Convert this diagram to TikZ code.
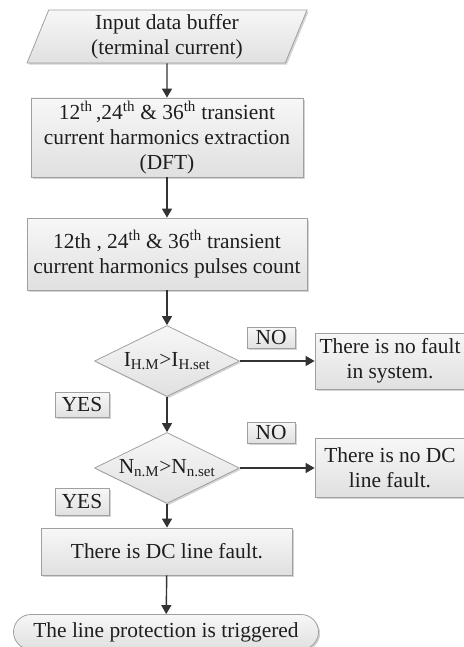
\documentclass[tikz,border=0pt]{standalone}
\usepackage{fontspec}
\setmainfont{Liberation Serif}
\usetikzlibrary{shapes.geometric,shapes.misc,shadows,arrows.meta}

\begin{document}
\begin{tikzpicture}[x=1bp, y=-1bp,
    font=\fontsize{21.5}{25}\selectfont,
    base/.style={draw=borderColour, line width=0.8pt, text=textColour,
        top color=topColour, bottom color=bottomColour, align=center,
        inner sep=0pt,
        drop shadow={shadow xshift=1.6bp, shadow yshift=-1.6bp, opacity=0.35, fill=gray}},
    block/.style={base, rectangle},
    io/.style={base, trapezium, trapezium left angle=64, trapezium right angle=116,
        trapezium stretches body},
    test/.style={base, diamond, aspect=2},
    stop/.style={base, rounded rectangle},
    tag/.style={base, rectangle, minimum width=48bp, minimum height=21bp},
    flow/.style={draw=arrowColour, line width=1.4pt, -{Triangle[length=9bp,width=10bp]}}]

    % Define colours
    \definecolor{borderColour}{HTML}{A0A0A0}
    \definecolor{topColour}{HTML}{F7F7F7}
    \definecolor{bottomColour}{HTML}{E0E0E0}
    \definecolor{textColour}{HTML}{1E1E1E}
    \definecolor{arrowColour}{HTML}{333333}

    % Fix page size
    \useasboundingbox (0,0) rectangle (464,647);

    % Main chain
    \node[io, minimum width=280bp, minimum height=53bp] (buffer) at (167,36.5)
        {Input data buffer\\(terminal current)};
    \node[block, minimum width=272bp, minimum height=79bp] (dft) at (167,137.5)
        {12\textsuperscript{th}\,,24\textsuperscript{th} \& 36\textsuperscript{th} transient\\
         current harmonics extraction\\(DFT)};
    \node[block, minimum width=280bp, minimum height=72bp] (count) at (167,254)
        {12th , 24\textsuperscript{th} \& 36\textsuperscript{th} transient\\
         current harmonics pulses count};
    \node[test, minimum width=145bp, minimum height=71bp] (harm) at (167,361)
        {I\textsubscript{H.M}>I\textsubscript{H.set}};
    \node[test, minimum width=145bp, minimum height=71bp] (pulse) at (167,468)
        {N\textsubscript{n.M}>N\textsubscript{n.set}};
    \node[block, minimum width=251bp, minimum height=47bp] (fault) at (167,551.5)
        {There is DC line fault.};
    \node[stop, minimum width=305bp, minimum height=35bp] (trip) at (166,632)
        {The line protection is triggered};

    % Side outcomes
    \node[block, minimum width=150bp, minimum height=56bp] (nofault) at (390,361)
        {There is no fault\\in system.};
    \node[block, minimum width=150bp, minimum height=59bp] (nodc) at (390,468)
        {There is no DC\\line fault.};

    % Decision labels
    \node[tag] (no1) at (271,338) {NO};
    \node[tag] (no2) at (271,432.5) {NO};
    \node[tag, minimum width=54bp, minimum height=25bp] (yes1) at (82,405) {YES};
    \node[tag, minimum width=54bp, minimum height=27bp] (yes2) at (82,502) {YES};

    % Connectors
    \draw[flow] (buffer) -- (dft);
    \draw[flow] (dft) -- (count);
    \draw[flow] (count) -- (harm);
    \draw[flow] (harm) -- (pulse);
    \draw[flow] (pulse) -- (fault);
    \draw[flow] (fault) -- (trip);
    \draw[flow] (harm) -- (nofault);
    \draw[flow] (pulse) -- (nodc);

\end{tikzpicture}
\end{document}
